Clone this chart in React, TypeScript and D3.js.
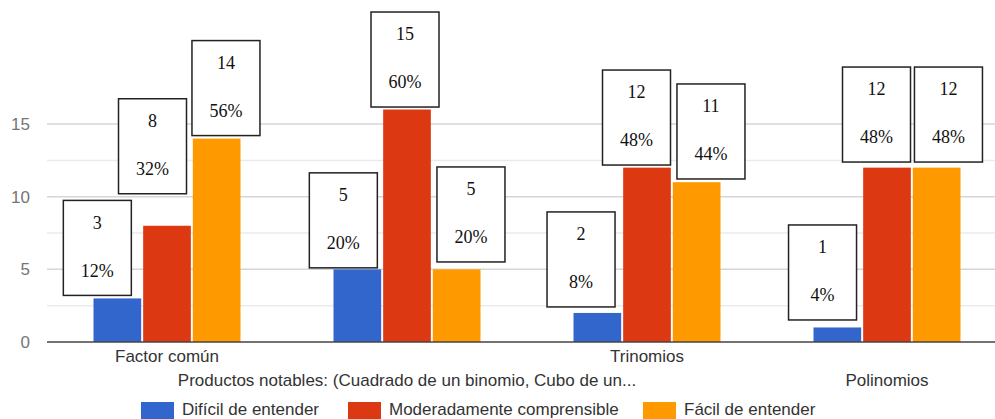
import React from "react";
import * as d3 from "d3";

const categories = [
  "Factor común",
  "Productos notables: (Cuadrado de un binomio, Cubo de un...",
  "Trinomios",
  "Polinomios",
];
const seriesNames = ["Difícil de entender", "Moderadamente comprensible", "Fácil de entender"];
const seriesColors = ["#3366cc", "#dc3912", "#ff9900"];
const dificil = [3, 5, 2, 1];
const moderado = [8, 16, 12, 12];
const facil = [14, 5, 11, 12];
const labelCounts = [
  [3, 8, 14],
  [5, 15, 5],
  [2, 12, 11],
  [1, 12, 12],
];
const labelPercents = [
  ["12%", "32%", "56%"],
  ["20%", "60%", "20%"],
  ["8%", "48%", "44%"],
  ["4%", "48%", "48%"],
];
const yTicks = [0, 5, 10, 15];
const yMinor = [2.5, 7.5, 12.5];

// callout offsets relative to each bar (dx from bar center, dy from bar top to box bottom)
const calloutOffsets = [
  [[-20, -3], [-14.5, -32], [9.3, -3]],
  [[-14, -1.5], [-2, -2.5], [14.3, -7.4]],
  [[-16.3, -6], [-10.5, -2.6], [14.3, -3.2]],
  [[-14.8, -7.5], [-10.5, -5.6], [11.8, -5.6]],
];

const W = 995;
const H = 419;

export default function App() {
  const series = [dificil, moderado, facil];
  const x0 = d3
    .scaleBand<number>()
    .domain(d3.range(categories.length))
    .range([47, 1007])
    .paddingInner(0.3875)
    .paddingOuter(0.19375);
  const x1 = d3
    .scaleBand<number>()
    .domain(d3.range(series.length))
    .range([0, x0.bandwidth()])
    .paddingInner(0.04);
  const y = d3.scaleLinear().domain([0, 20]).range([342, 51.4]);

  const boxW = 68;
  const boxH = 95;
  const sans = "Arial, 'Liberation Sans', sans-serif";
  const serif = "'Times New Roman', 'Liberation Serif', serif";

  const legendItems = [
    { sx: 141, tx: 182 },
    { sx: 348, tx: 389 },
    { sx: 643, tx: 684 },
  ];

  return (
    <svg
      width={W}
      height={H}
      style={{ position: "absolute", left: 0, top: 0, background: "#fff" }}
    >
      {/* minor gridlines */}
      {yMinor.map((t) => (
        <line key={"m" + t} x1={47} x2={W} y1={y(t)} y2={y(t)} stroke="#ebebeb" strokeWidth={1.5} />
      ))}
      {/* major gridlines */}
      {yTicks.filter((t) => t !== 0).map((t) => (
        <line key={"g" + t} x1={47} x2={W} y1={y(t)} y2={y(t)} stroke="#d6d6d6" strokeWidth={1.5} />
      ))}
      {yTicks.map((t) => (
        <text
          key={"t" + t}
          x={30}
          y={y(t)}
          dy="0.35em"
          textAnchor="end"
          fontFamily={sans}
          fontSize={17}
          fill="#757575"
        >
          {t}
        </text>
      ))}
      {/* bars */}
      {categories.map((c, g) =>
        series.map((s, i) => (
          <rect
            key={`b${g}-${i}`}
            x={(x0(g) as number) + (x1(i) as number)}
            y={y(s[g])}
            width={x1.bandwidth()}
            height={y(0) - y(s[g])}
            fill={seriesColors[i]}
          />
        ))
      )}
      {/* baseline */}
      <line x1={47} x2={W} y1={y(0)} y2={y(0)} stroke="#444" strokeWidth={1.5} />
      {/* category labels */}
      {categories.map((c, g) => (
        <text
          key={"c" + g}
          x={(x0(g) as number) + x0.bandwidth() / 2}
          y={g % 2 === 0 ? 356 : 380}
          dy="0.35em"
          textAnchor="middle"
          fontFamily={sans}
          fontSize={17}
          fill="#333"
        >
          {c}
        </text>
      ))}
      {/* callouts */}
      {categories.map((c, g) =>
        series.map((s, i) => {
          const cx = (x0(g) as number) + (x1(i) as number) + x1.bandwidth() / 2 + calloutOffsets[g][i][0];
          const bottom = y(s[g]) + calloutOffsets[g][i][1];
          const top = bottom - boxH;
          return (
            <g key={`l${g}-${i}`}>
              <rect
                x={cx - boxW / 2}
                y={top}
                width={boxW}
                height={boxH}
                fill="#fff"
                stroke="#222"
                strokeWidth={1.5}
              />
              <text x={cx} y={top + 22} dy="0.35em" textAnchor="middle" fontFamily={serif} fontSize={18} fill="#111">
                {labelCounts[g][i]}
              </text>
              <text x={cx} y={top + 70} dy="0.35em" textAnchor="middle" fontFamily={serif} fontSize={18} fill="#111">
                {labelPercents[g][i]}
              </text>
            </g>
          );
        })
      )}
      {/* legend */}
      {seriesNames.map((n, i) => (
        <g key={"lg" + i}>
          <rect x={legendItems[i].sx} y={402} width={33} height={17} fill={seriesColors[i]} />
          <text x={legendItems[i].tx} y={409} dy="0.35em" fontFamily={sans} fontSize={17} fill="#333">
            {n}
          </text>
        </g>
      ))}
    </svg>
  );
}
